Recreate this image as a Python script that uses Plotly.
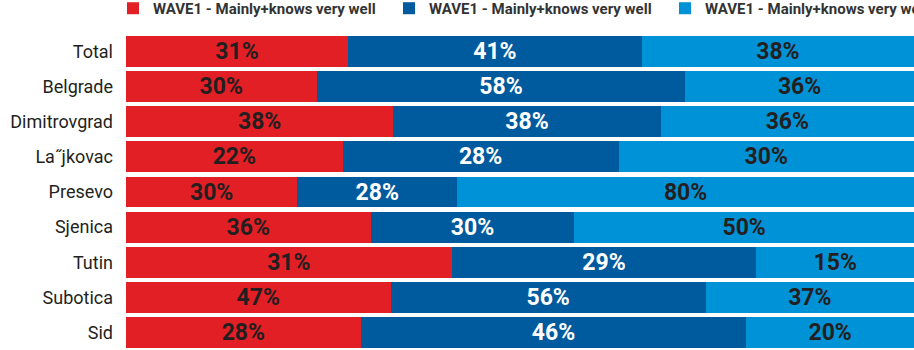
import plotly.graph_objects as go

# Regions, top to bottom
regions = ["Total", "Belgrade", "Dimitrovgrad", "La˝jkovac", "Presevo",
           "Sjenica", "Tutin", "Subotica", "Sid"]

# Three series, all labelled the same in the source
series_names = ["WAVE1 - Mainly+knows very well"] * 3
series_a = [31, 30, 38, 22, 30, 36, 31, 47, 28]
series_b = [41, 58, 38, 28, 28, 30, 29, 56, 46]
series_c = [38, 36, 36, 30, 80, 50, 15, 37, 20]

colors = ["#e31f26", "#005a9e", "#0092d6"]
label_colors = ["#231f20", "#ffffff", "#231f20"]

FONT = "Roboto"

fig = go.Figure()
for name, vals, col, tcol in zip(series_names, [series_a, series_b, series_c],
                                 colors, label_colors):
    fig.add_trace(go.Bar(
        y=regions,
        x=vals,
        name=name,
        orientation="h",
        marker=dict(color=col, line=dict(width=0)),
        text=[f"{v}%" for v in vals],
        textposition="inside",
        insidetextanchor="middle",
        textangle=0,
        textfont=dict(family=FONT, size=23, color=tcol, weight="bold"),
        hoverinfo="skip",
    ))

fig.update_layout(
    width=914,
    height=350,
    barmode="stack",
    barnorm="percent",
    bargap=0.12,
    plot_bgcolor="white",
    paper_bgcolor="white",
    margin=dict(l=126, r=0, t=34, b=0, autoexpand=False),
    uniformtext=dict(minsize=23, mode="show"),
    font=dict(family=FONT, color="#231f20"),
    legend=dict(
        orientation="h",
        x=-0.0165,
        xanchor="left",
        y=1.133,
        yanchor="top",
        entrywidth=231,
        font=dict(family=FONT, size=15, color="#333333", weight="bold"),
        itemclick=False,
        traceorder="normal",
        bgcolor="rgba(0,0,0,0)",
    ),
    showlegend=True,
)
fig.update_xaxes(visible=False, range=[0, 100], fixedrange=True)
fig.update_yaxes(
    autorange="reversed",
    showgrid=False,
    showline=False,
    ticks="",
    ticklabelstandoff=12,
    tickfont=dict(family=FONT, size=18, color="#231f20"),
    fixedrange=True,
)

fig.write_html("out.html", config={"displayModeBar": False})
